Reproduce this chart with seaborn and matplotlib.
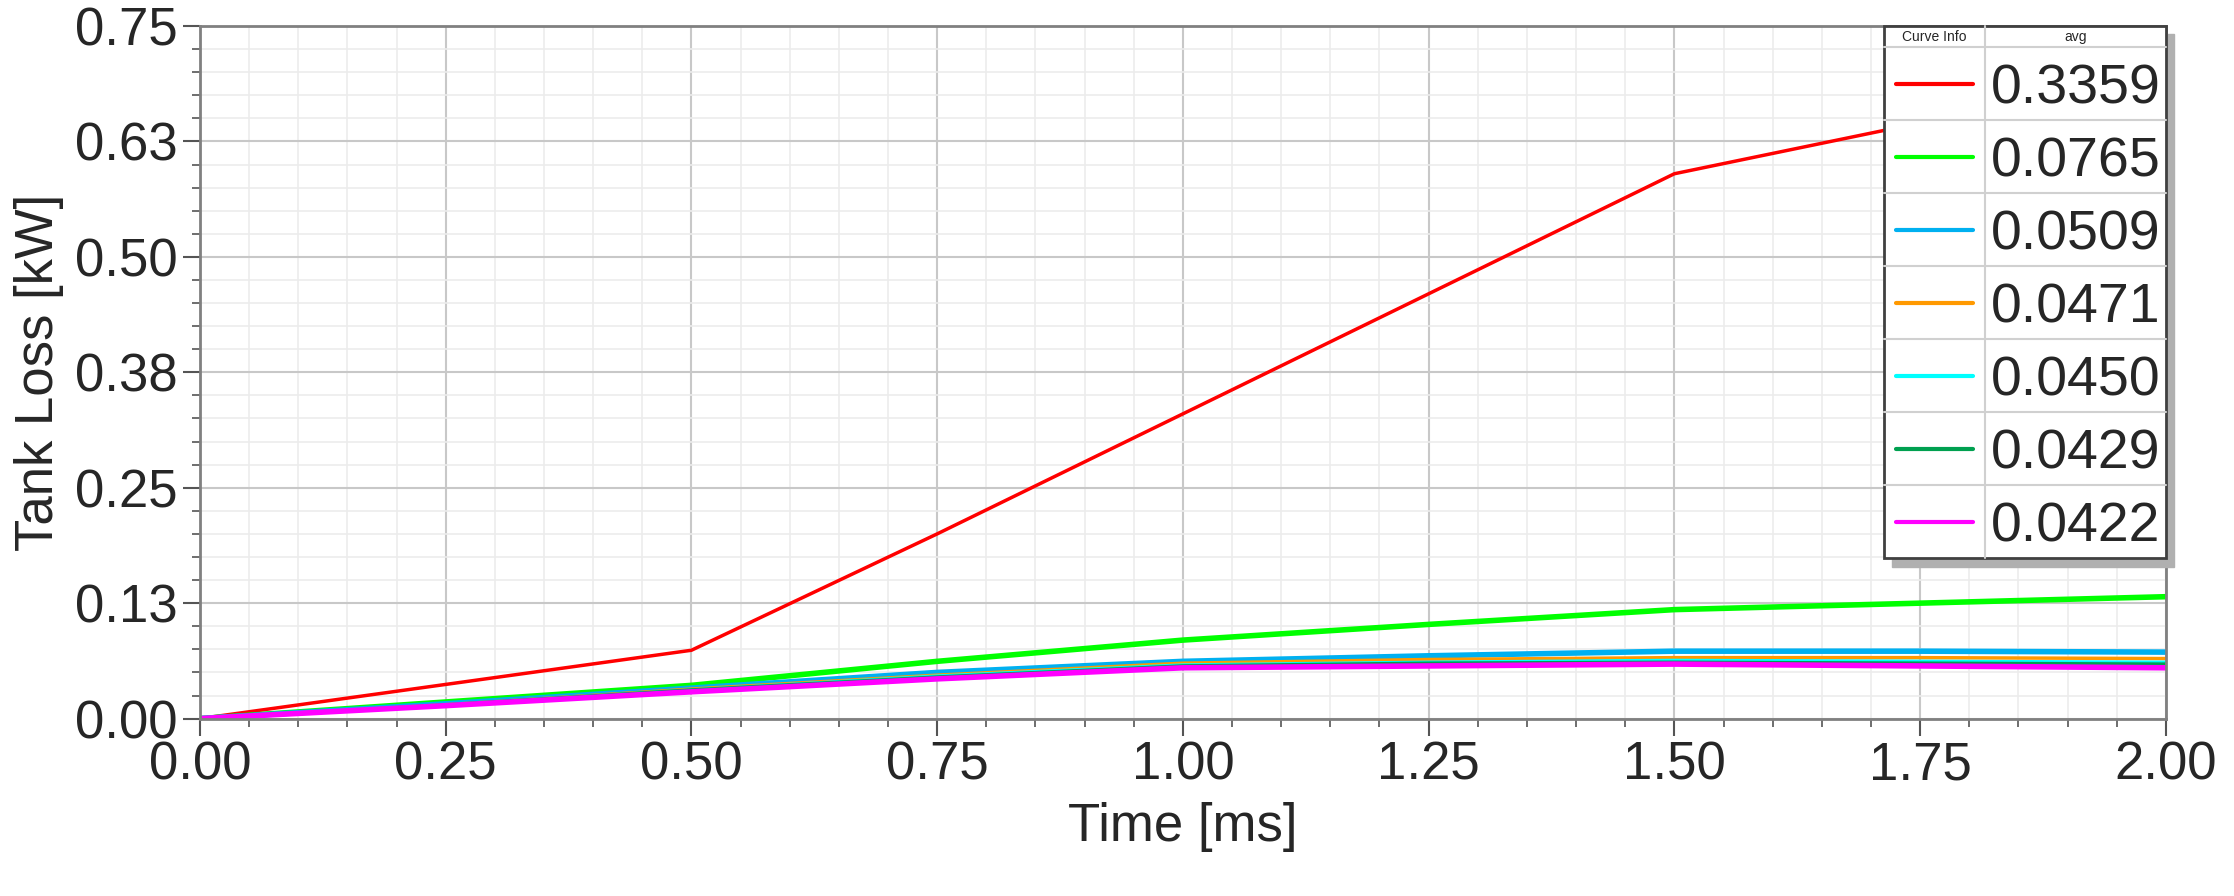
import numpy as np
import pandas as pd
import matplotlib
matplotlib.use("Agg")
import matplotlib.pyplot as plt
import seaborn as sns
from matplotlib.ticker import MultipleLocator, FormatStrFormatter

time_ms = [0.0, 0.25, 0.5, 0.75, 1.0, 1.25, 1.5, 1.75, 2.0]
red = [0.0, 0.037, 0.074, 0.20, 0.33, 0.46, 0.59, 0.645, 0.705]
green = [0.0, 0.018, 0.036, 0.062, 0.085, 0.102, 0.118, 0.125, 0.132]
blue = [0.0, 0.016, 0.033, 0.050, 0.062, 0.068, 0.073, 0.073, 0.072]
orange = [0.0, 0.015, 0.032, 0.047, 0.060, 0.064, 0.066, 0.066, 0.065]
cyan = [0.0, 0.015, 0.031, 0.046, 0.058, 0.061, 0.063, 0.062, 0.061]
dkgreen = [0.0, 0.015, 0.031, 0.045, 0.057, 0.060, 0.061, 0.060, 0.059]
magenta = [0.0, 0.014, 0.029, 0.043, 0.055, 0.057, 0.059, 0.057, 0.055]
avg_labels = ["0.3359", "0.0765", "0.0509", "0.0471", "0.0450", "0.0429", "0.0422"]
y_ticks = [0.0, 0.125, 0.25, 0.375, 0.5, 0.625, 0.75]
y_tick_labels = ["0.00", "0.13", "0.25", "0.38", "0.50", "0.63", "0.75"]
colors = ["#ff0000", "#00ff00", "#00b0f0", "#ff9900", "#00ffff", "#00a050", "#ff00ff"]
widths = [2.5, 4, 4, 2.5, 2.5, 2.5, 4]

series = [red, green, blue, orange, cyan, dkgreen, magenta]
df = pd.DataFrame({"time": time_ms * len(series),
                   "loss": sum(series, []),
                   "curve": sum([[a] * len(time_ms) for a in avg_labels], [])})

sns.set_style("white")
plt.rcParams["font.family"] = ["Liberation Sans", "DejaVu Sans"]

fig, ax = plt.subplots(figsize=(22.34, 8.96), dpi=100)
fig.subplots_adjust(left=0.0895, right=0.9695, top=0.971, bottom=0.198)

for lab, c, w in zip(avg_labels, colors, widths):
    sns.lineplot(data=df[df.curve == lab], x="time", y="loss", color=c, lw=w, ax=ax, legend=False)

ax.set_xlim(0, 2)
ax.set_ylim(0, 0.75)
ax.xaxis.set_major_locator(MultipleLocator(0.25))
ax.xaxis.set_minor_locator(MultipleLocator(0.05))
ax.set_yticks(y_ticks)
ax.set_yticklabels(y_tick_labels)
ax.yaxis.set_minor_locator(MultipleLocator(0.025))
ax.xaxis.set_major_formatter(FormatStrFormatter("%.2f"))
ax.grid(which="major", color="#c8c8c8", lw=1.5)
ax.grid(which="minor", color="#ececec", lw=1.2)
ax.tick_params(which="major", direction="out", length=12, width=1.5, labelsize=38, color="#555555", pad=4)
ax.tick_params(which="minor", direction="out", length=6, width=1.2, color="#555555")
ax.tick_params(axis="x", which="both", bottom=True)
ax.tick_params(axis="y", which="both", left=True)
for s in ax.spines.values():
    s.set_color("#808080")
    s.set_linewidth(2)
ax.set_xlabel("Time [ms]", fontsize=38, labelpad=8)
ax.set_ylabel("Tank Loss [kW]", fontsize=38, labelpad=8)

# legend table
x0, xm, x1 = 0.8565, 0.908, 1.0
yh = 0.969
rh = 0.1054
ybot = yh - rh * len(avg_labels)
T = ax.transAxes
ax.add_patch(plt.Rectangle((x0 + 0.004, ybot - 0.012), x1 - x0, 1 - ybot, transform=T,
                           color="#b0b0b0", zorder=5, clip_on=False))
ax.add_patch(plt.Rectangle((x0, ybot), x1 - x0, 1 - ybot, transform=T, facecolor="white",
                           edgecolor="#404040", lw=2, zorder=6, clip_on=False))
ax.plot([xm, xm], [ybot, 1], transform=T, color="#d0d0d0", lw=1.5, zorder=7, clip_on=False)
ax.plot([x0, x1], [yh, yh], transform=T, color="#d0d0d0", lw=1.5, zorder=7, clip_on=False)
ax.text((x0 + xm) / 2, (yh + 1) / 2, "Curve Info", transform=T, ha="center", va="center", fontsize=10, zorder=8)
ax.text((xm + x1) / 2, (yh + 1) / 2, "avg", transform=T, ha="center", va="center", fontsize=10, zorder=8)
for i, (lab, c) in enumerate(zip(avg_labels, colors)):
    top = yh - rh * i
    if i > 0:
        ax.plot([x0, x1], [top, top], transform=T, color="#d0d0d0", lw=1.5, zorder=7, clip_on=False)
    ax.plot([x0 + 0.006, xm - 0.006], [top - rh * 0.5] * 2, transform=T, color=c, lw=3, zorder=8, clip_on=False)
    ax.text(xm + 0.003, top - rh * 0.58, lab, transform=T, ha="left", va="center", fontsize=40, zorder=8)

fig.savefig("out.png", dpi=100)
